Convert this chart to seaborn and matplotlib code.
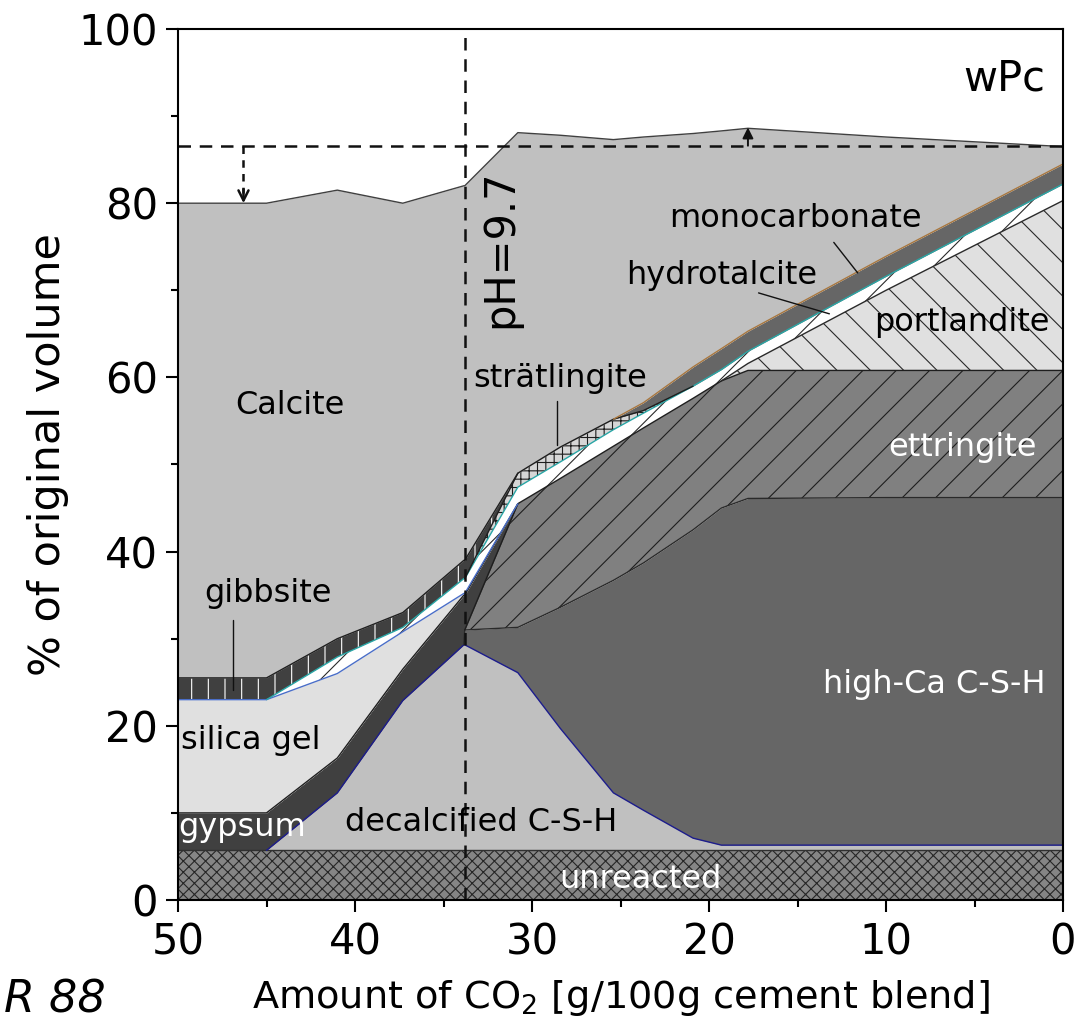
import numpy as np
import matplotlib
matplotlib.use("Agg")
import matplotlib.pyplot as plt
from matplotlib.ticker import MultipleLocator
import seaborn as sns

# ---------------- data ----------------
co2 = [50, 45, 41, 37.3, 33.85, 33.8, 30.8, 28.4, 25.4, 23.7, 20.9, 19.3, 17.8, 10, 0]

unreacted     = [5.7, 5.7, 5.7, 5.7, 5.7, 5.7, 5.7, 5.7, 5.7, 5.7, 5.7, 5.7, 5.7, 5.7, 5.7]
decalcified   = [0, 0, 6.6, 17.2, 23.6, 23.6, 20.4, 14.0, 6.6, 4.6, 1.4, 0.6, 0.6, 0.6, 0.6]
high_ca_csh   = [0, 0, 0, 0, 0, 1.7, 5.2, 13.9, 24.4, 28.4, 35.4, 38.7, 39.8, 39.9, 39.9]
ettringite    = [0, 0, 0, 0, 0, 0, 14.2, 14.8, 15.4, 15.5, 15.1, 14.6, 14.7, 14.6, 14.6]
gypsum        = [4.3, 4.3, 4.0, 3.6, 5.7, 4.0, 0, 0, 0, 0, 0, 0, 0, 0, 0]
silica_gel    = [13.0, 13.0, 9.7, 4.3, 0.2, 0.2, 0, 0, 0, 0, 0, 0, 0, 0, 0]
portlandite   = [0, 0, 0, 0, 0, 0, 0, 0, 0, 0, 0, 0, 0.8, 9.2, 19.5]
hydrotalcite  = [0, 0, 1.9, 0.5, 1.7, 1.7, 1.9, 1.9, 1.9, 1.7, 1.4, 1.3, 1.4, 1.6, 1.9]
stratlingite  = [0, 0, 0, 0, 0, 0, 1.6, 1.7, 1.2, 0.3, 0, 0, 0, 0, 0]
monocarbonate = [0, 0, 0, 0, 0, 0, 0, 0, 0, 0.9, 2.2, 2.4, 2.3, 2.3, 2.3]
gibbsite      = [2.5, 2.5, 2.1, 1.7, 2.1, 2.1, 0, 0, 0, 0, 0, 0, 0, 0, 0]
calcite       = [54.5, 54.5, 51.5, 47.0, 43.0, 43.0, 39.1, 35.8, 32.1, 30.5, 26.8, 25.0, 23.3, 13.7, 2.0]

ref_volume = 86.6        # dashed reference level
ph_co2 = 33.8            # pH = 9.7 position
arrow_down = (46.3, 86.6, 80.0)
arrow_up = (17.8, 86.6, 88.7)

# ---------------- styling ----------------
sns.set_theme(style="ticks")
plt.rcParams["font.family"] = ["DejaVu Sans"]
plt.rcParams["hatch.linewidth"] = 0.8
plt.rcParams["axes.linewidth"] = 1.5

# name, data, face, hatch, hatch colour, top-edge colour
layers = [
    ("unreacted",     unreacted,     "#858585", "xxx", "#262626", "#303030"),
    ("decalcified",   decalcified,   "#c0c0c0", None, "#c0c0c0", "#1c1c8c"),
    ("high_ca",       high_ca_csh,   "#666666", None, "#666666", "#2a2a2a"),
    ("ettringite",    ettringite,    "#808080", "/",  "#1e1e1e", "#1e1e1e"),
    ("gypsum",        gypsum,        "#404040", None, "#404040", "#202020"),
    ("silica_gel",    silica_gel,    "#e0e0e0", None, "#e0e0e0", "#4a6ec8"),
    ("portlandite",   portlandite,   "#e0e0e0", "\\", "#2a2a2a", "#2a2a2a"),
    ("hydrotalcite",  hydrotalcite,  "#ffffff", "/",  "#2a2a2a", "#2aa6a6"),
    ("stratlingite",  stratlingite,  "#d6d6d6", "++", "#1e1e1e", "#1e1e1e"),
    ("monocarbonate", monocarbonate, "#666666", None, "#666666", "#a8773f"),
    ("gibbsite",      gibbsite,      "#404040", "|",  "#ffffff", "#202020"),
    ("calcite",       calcite,       "#c0c0c0", None, "#c0c0c0", "#404040"),
]

fig = plt.figure(figsize=(10.79, 10.30), dpi=100)
ax = fig.add_axes([178 / 1079, 130 / 1030, 885 / 1079, 871 / 1030])

x = np.array(co2, dtype=float)
lower = np.zeros_like(x)
for name, vals, face, hatch, hcol, ecol in layers:
    v = np.array(vals, dtype=float)
    upper = lower + v
    ax.fill_between(x, lower, upper, facecolor=face, hatch=hatch,
                    edgecolor=hcol, linewidth=0, zorder=1)
    present = v > 0
    near = present.copy()
    near[1:] |= present[:-1]
    near[:-1] |= present[1:]
    yline = np.where(near, upper, np.nan)
    sns.lineplot(x=x, y=yline, ax=ax, color=ecol, lw=1.0, sort=False,
                 estimator=None, legend=False, zorder=2)
    lower = upper

# dashed reference lines
ax.axvline(ph_co2, color="#111111", lw=1.8, ls=(0, (5, 3.5)), zorder=6)
ax.axhline(ref_volume, color="#111111", lw=1.8, ls=(0, (5, 3.5)), zorder=6)

# arrows
xa, y0, y1 = arrow_down
ax.plot([xa, xa], [y0, y1 + 1.2], color="#111111", lw=1.8, ls=(0, (3, 2.5)), zorder=6)
ax.annotate("", xy=(xa, y1), xytext=(xa, y1 + 1.6),
            arrowprops=dict(arrowstyle="->", color="#111111", lw=1.8,
                            mutation_scale=18, shrinkA=0, shrinkB=0), zorder=6)
xb, yb0, yb1 = arrow_up
ax.annotate("", xy=(xb, yb1), xytext=(xb, yb0),
            arrowprops=dict(arrowstyle="-|>", color="#111111", lw=1.4,
                            mutation_scale=16, shrinkA=0, shrinkB=0), zorder=6)

# labels inside the plot
fs = 23
txt = dict(ha="center", va="center", fontsize=fs, zorder=7)
ax.text(43.7, 56.8, "Calcite", color="black", **txt)
ax.text(44.9, 35.2, "gibbsite", color="black", **txt)
ax.text(45.9, 18.3, "silica gel", color="black", **txt)
ax.text(46.4, 8.3, "gypsum", color="white", **txt)
ax.text(32.9, 8.9, "decalcified C-S-H", color="black", **txt)
ax.text(23.9, 2.3, "unreacted", color="white", **txt)
ax.text(7.3, 24.7, "high-Ca C-S-H", color="white", **txt)
ax.text(5.7, 52.0, "ettringite", color="white", **txt)
ax.text(5.7, 66.3, "portlandite", color="black", **txt)
ax.text(28.4, 59.9, "strätlingite", color="black", **txt)
ax.text(19.3, 71.7, "hydrotalcite", color="black", **txt)
ax.text(15.1, 78.2, "monocarbonate", color="black", **txt)
ax.text(3.3, 94.3, "wPc", color="black", ha="center", va="center", fontsize=30, zorder=7)
ax.text(31.8, 74.8, "pH=9.7", color="black", ha="center", va="center",
        fontsize=30, rotation=90, zorder=7)

# leader lines
ax.plot([46.9, 46.9], [32.1, 24.1], color="#111111", lw=1.0, zorder=7)
ax.plot([28.6, 28.6], [57.3, 52.2], color="#111111", lw=1.0, zorder=7)
ax.plot([17.2, 13.2], [69.7, 67.3], color="#111111", lw=1.0, zorder=7)
ax.plot([12.95, 11.6], [75.5, 72.0], color="#111111", lw=1.0, zorder=7)

# axes
ax.set_xlim(50, 0)
ax.set_ylim(0, 100)
ax.set_xticks([50, 40, 30, 20, 10, 0])
ax.set_yticks([0, 20, 40, 60, 80, 100])
ax.xaxis.set_minor_locator(MultipleLocator(5))
ax.yaxis.set_minor_locator(MultipleLocator(10))
ax.tick_params(which="major", direction="out", length=8.5, width=1.5,
               labelsize=30, pad=6, color="black", labelcolor="black")
ax.tick_params(axis="x", which="major", pad=7)
ax.tick_params(which="minor", direction="out", length=5, width=1.5, color="black")
for s in ax.spines.values():
    s.set_visible(True)
    s.set_color("black")
    s.set_linewidth(1.5)
    s.set_zorder(8)
ax.set_xlabel(r"Amount of CO$_2$ [g/100g cement blend]", fontsize=27.5, color="black")
ax.set_ylabel("% of original volume", fontsize=31, color="black")
ax.xaxis.set_label_coords(0.5, -0.09)
ax.yaxis.set_label_coords(-0.123, 0.511)
ax.grid(False)

fig.text(106 / 1079, 1 - 1000 / 1030, "R 88", fontsize=32, style="italic",
         ha="right", va="center", color="black")

fig.savefig("out.png", dpi=100)
